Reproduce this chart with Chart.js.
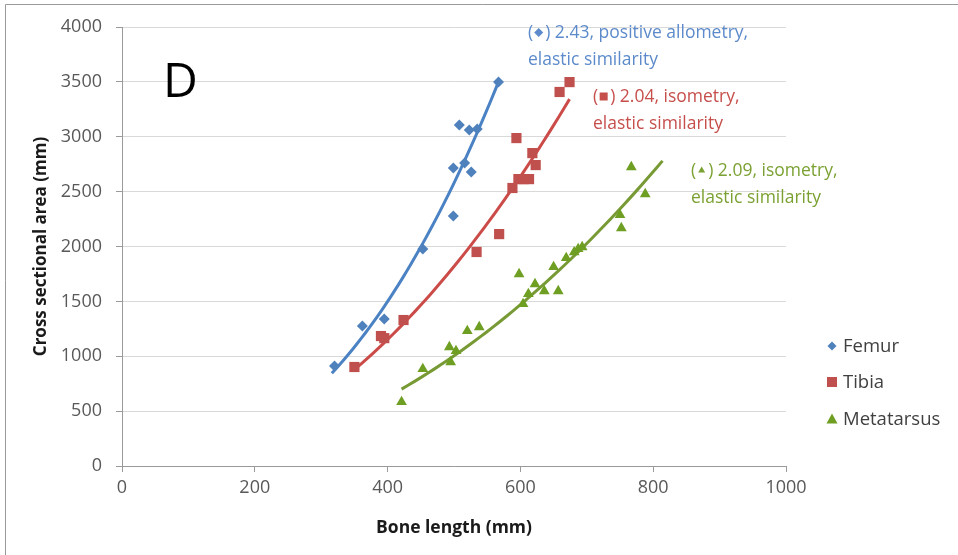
<!DOCTYPE html>
<html>
<head>
<meta charset="utf-8">
<script src="https://cdn.jsdelivr.net/npm/chart.js@4"></script>
<style>
  html, body { margin: 0; padding: 0; background: #fff; }
  #wrap { width: 958px; height: 555px; position: relative; }
</style>
</head>
<body>
<div id="wrap"><canvas id="myChart" width="958" height="555"></canvas></div>
<script>
// bone length (mm) vs cross sectional area (mm)
const femurX = [320, 362, 395, 453, 499, 499, 516, 526, 508, 523, 535, 567];
const femurY = [911, 1275, 1340, 1977, 2278, 2715, 2760, 2678, 3107, 3061, 3070, 3498];

const tibiaX = [350, 390, 395, 424, 534, 568, 588, 597, 605, 613, 623, 618, 594, 659, 674];
const tibiaY = [902, 1184, 1165, 1330, 1950, 2113, 2533, 2614, 2614, 2614, 2742, 2851, 2988, 3408, 3498];

const metaX = [421, 453, 493, 495, 503, 520, 538, 598, 604, 612, 622, 636, 657, 650, 669, 681, 687, 693, 750, 752, 767, 788];
const metaY = [583, 884, 1084, 947, 1048, 1230, 1266, 1749, 1476, 1567, 1658, 1594, 1594, 1813, 1895, 1949, 1977, 1995, 2287, 2168, 2724, 2478];

// power trendlines y = a * x^b, anchored at their last point
const trendExp = [2.43, 2.04, 2.09];
const trendFrom = [316, 353, 421];
const trendTo = [567, 674, 814];
const trendEndY = [3500, 3343, 2780];

const seriesNames = ['Femur', 'Tibia', 'Metatarsus'];
const noteLines = [
  ['2.43, positive allometry,', 'elastic similarity'],
  ['2.04, isometry,', 'elastic similarity'],
  ['2.09, isometry,', 'elastic similarity']
];
const xTicks = [0, 200, 400, 600, 800, 1000];
const yTicks = [0, 500, 1000, 1500, 2000, 2500, 3000, 3500, 4000];

const markColors = ['#4F81BD', '#C0504D', '#6E9F22'];
const lineColors = ['#4A82C4', '#CB4B48', '#779A35'];
const noteColors = ['#5C8ACB', '#C64F4C', '#7BA132'];
const pointStyles = ['rectRot', 'rect', 'triangle'];
const FONT = '"Open Sans", "DejaVu Sans", sans-serif';

function toPoints(xs, ys) {
  return xs.map((x, i) => ({ x: x, y: ys[i] }));
}

function trendPoints(k) {
  const b = trendExp[k];
  const a = trendEndY[k] / Math.pow(trendTo[k], b);
  const pts = [];
  const steps = 40;
  for (let i = 0; i <= steps; i++) {
    const x = trendFrom[k] + (trendTo[k] - trendFrom[k]) * i / steps;
    pts.push({ x: x, y: a * Math.pow(x, b) });
  }
  return pts;
}

function drawMarker(ctx, style, x, y, color) {
  ctx.save();
  ctx.fillStyle = color;
  ctx.beginPath();
  if (style === 'rectRot') {
    ctx.moveTo(x, y - 4.5); ctx.lineTo(x + 4.5, y); ctx.lineTo(x, y + 4.5); ctx.lineTo(x - 4.5, y);
  } else if (style === 'rect') {
    ctx.rect(x - 5, y - 5, 10, 10);
  } else {
    ctx.moveTo(x, y - 5.5); ctx.lineTo(x + 5.5, y + 4.5); ctx.lineTo(x - 5.5, y + 4.5);
  }
  ctx.closePath();
  ctx.fill();
  ctx.restore();
}

const extras = {
  id: 'extras',
  afterDraw(chart) {
    const ctx = chart.ctx;
    ctx.save();
    // frame
    ctx.strokeStyle = '#9a9a9a';
    ctx.lineWidth = 1;
    ctx.beginPath();
    ctx.moveTo(5.5, 560); ctx.lineTo(5.5, 4.5); ctx.lineTo(960, 4.5);
    ctx.stroke();

    // panel letter
    ctx.fillStyle = '#000';
    ctx.font = '48px ' + FONT;
    ctx.textBaseline = 'alphabetic';
    ctx.fillText('D', 163, 97);

    // legend
    const legendY = [346, 382, 419];
    ctx.font = '18.5px ' + FONT;
    ctx.textBaseline = 'middle';
    for (let k = 0; k < 3; k++) {
      drawMarker(ctx, pointStyles[k], 832, legendY[k], markColors[k]);
      ctx.fillStyle = '#404040';
      ctx.fillText(seriesNames[k], 843, legendY[k] + 1);
    }

    // exponent notes
    const noteX = [528, 593, 691];
    const noteY = [33, 97, 171];
    ctx.font = '17.5px ' + FONT;
    for (let k = 0; k < 3; k++) {
      ctx.fillStyle = noteColors[k];
      ctx.fillText('(', noteX[k], noteY[k]);
      const pw = ctx.measureText('(').width;
      const mx = noteX[k] + pw + 5.5;
      if (k === 0) {
        ctx.beginPath();
        ctx.moveTo(mx, noteY[k] - 5); ctx.lineTo(mx + 4.5, noteY[k] - 0.5);
        ctx.lineTo(mx, noteY[k] + 4); ctx.lineTo(mx - 4.5, noteY[k] - 0.5);
        ctx.closePath(); ctx.fill();
      } else if (k === 1) {
        ctx.fillRect(mx - 4, noteY[k] - 4.5, 8, 8);
      } else {
        ctx.beginPath();
        ctx.moveTo(mx, noteY[k] - 4.5); ctx.lineTo(mx + 3.5, noteY[k] + 1.5); ctx.lineTo(mx - 3.5, noteY[k] + 1.5);
        ctx.closePath(); ctx.fill();
      }
      ctx.fillText(') ' + noteLines[k][0], mx + 6.5, noteY[k]);
      ctx.fillText(noteLines[k][1], noteX[k], noteY[k] + 27);
    }
    ctx.restore();
  }
};

const datasets = [];
const xs = [femurX, tibiaX, metaX];
const ys = [femurY, tibiaY, metaY];
for (let k = 0; k < 3; k++) {
  datasets.push({
    label: seriesNames[k] + ' trend',
    data: trendPoints(k),
    showLine: true,
    borderColor: lineColors[k],
    borderWidth: 3,
    pointRadius: 0,
    fill: false,
    order: 2
  });
}
const markRadius = [5.5, 7.2, 6.2];
for (let k = 0; k < 3; k++) {
  datasets.push({
    label: seriesNames[k],
    data: toPoints(xs[k], ys[k]),
    pointStyle: pointStyles[k],
    pointRadius: markRadius[k],
    backgroundColor: markColors[k],
    borderColor: markColors[k],
    borderWidth: 0,
    order: 1
  });
}

const ctx = document.getElementById('myChart').getContext('2d');
const myChart = new Chart(ctx, {
  type: 'scatter',
  data: { datasets: datasets },
  options: {
    responsive: false,
    animation: false,
    layout: { padding: { left: 27, top: 27, right: 172, bottom: 12 } },
    plugins: {
      legend: { display: false },
      tooltip: { enabled: false }
    },
    scales: {
      x: {
        type: 'linear',
        min: 0,
        max: 1000,
        afterBuildTicks(scale) { scale.ticks = xTicks.map(v => ({ value: v })); },
        afterFit(scale) { scale.height = 555 - 466 - 12; },
        grid: { drawOnChartArea: false, drawTicks: true, tickLength: 6, tickColor: '#9a9a9a' },
        border: { color: '#9a9a9a', width: 1 },
        ticks: {
          color: '#595959',
          font: { family: FONT, size: 18 },
          padding: 5,
          callback: v => String(v)
        },
        title: {
          display: true,
          text: 'Bone length (mm)',
          color: '#1a1a1a',
          font: { family: FONT, size: 17.5, weight: 'bold' },
          padding: { top: 3 }
        }
      },
      y: {
        type: 'linear',
        min: 0,
        max: 4000,
        afterBuildTicks(scale) { scale.ticks = yTicks.map(v => ({ value: v })); },
        afterFit(scale) { scale.width = 122 - 27; },
        grid: { color: '#d9d9d9', drawTicks: true, tickLength: 6, tickColor: '#9a9a9a' },
        border: { color: '#9a9a9a', width: 1 },
        ticks: {
          color: '#595959',
          font: { family: FONT, size: 18 },
          padding: 14,
          callback: v => String(v)
        },
        title: {
          display: true,
          text: 'Cross sectional area (mm)',
          color: '#1a1a1a',
          font: { family: FONT, size: 17, weight: 'bold' },
          padding: { bottom: 4 }
        }
      }
    }
  },
  plugins: [extras]
});
</script>
</body>
</html>
